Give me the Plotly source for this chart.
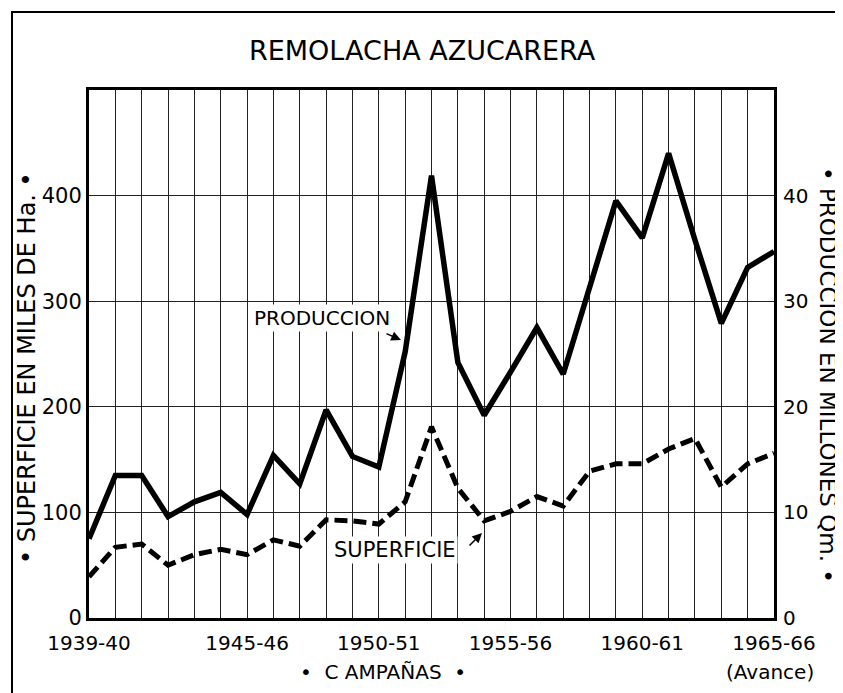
import plotly.graph_objects as go

# ---- data ----
years = list(range(1939, 1966))
produccion = [7.5, 13.5, 13.5, 9.6, 11.0, 11.9, 9.8, 15.4, 12.7, 19.7, 15.3, 14.3,
              25.2, 41.9, 24.2, 19.2, 23.3, 27.5, 23.1, 31.4, 39.5, 36.0, 44.0,
              35.8, 27.9, 33.2, 34.7]
superficie = [39, 67, 70, 50, 60, 65, 60, 74, 68, 93, 92, 89, 110, 181, 123, 92,
              101, 115, 106, 139, 146, 146, 160, 170, 124, 146, 156]
label_years = [1939, 1945, 1950, 1955, 1960, 1965]
label_text = ["1939-40", "1945-46", "1950-51", "1955-56", "1960-61", "1965-66"]
left_ticks = [0, 100, 200, 300, 400]
right_ticks = [0, 10, 20, 30, 40]

W, H = 843, 693
OFF = 8  # page body margin offset
L, R, T, B = 89, 774, 90, 618  # plot area in picture pixels
FONT = "DejaVu Sans, Verdana, sans-serif"


def px(x):
    return (x - L) / (R - L)


def py(y):
    return (B - y) / (B - T)


fig = go.Figure()
fig.add_trace(go.Scatter(x=years, y=superficie, mode="lines", yaxis="y",
                         line=dict(color="black", width=5, dash="13px,6px"),
                         showlegend=False))
fig.add_trace(go.Scatter(x=years, y=produccion, mode="lines", yaxis="y2",
                         line=dict(color="black", width=5.5),
                         showlegend=False))

tickvals = years
ticktext = [label_text[label_years.index(y)] if y in label_years else "" for y in years]

fig.update_layout(
    width=W, height=H,
    margin=dict(l=L - OFF, r=W - (R - OFF), t=T - OFF, b=H - (B - OFF), pad=0),
    paper_bgcolor="white", plot_bgcolor="white",
    font=dict(family=FONT, color="black", size=18),
    xaxis=dict(range=[1939, 1965], tickvals=tickvals, ticktext=ticktext,
               showgrid=True, gridcolor="#222", gridwidth=1.4,
               showline=True, linecolor="black", linewidth=3, mirror=True,
               ticks="", zeroline=False, tickfont=dict(size=20), ticklabelstandoff=5),
    yaxis=dict(range=[0, 500], tickvals=left_ticks, showgrid=True,
               gridcolor="#222", gridwidth=1.4, zeroline=False,
               showline=True, linecolor="black", linewidth=3, mirror=True,
               ticks="", tickfont=dict(size=21), ticklabelstandoff=0),
    yaxis2=dict(range=[0, 50], tickvals=right_ticks, overlaying="y", side="right",
                showgrid=False, zeroline=False, ticks="", showline=False,
                tickfont=dict(size=20), ticklabelstandoff=8),
)

ann = [
    dict(text="REMOLACHA AZUCARERA", x=px(422), y=py(50), font=dict(size=27)),
    dict(text="• SUPERFICIE EN MILES DE Ha. •", x=px(27), y=py(368), textangle=-90,
         font=dict(size=24)),
    dict(text="• PRODUCCION EN MILLONES Qm. •", x=px(828), y=py(375), textangle=90,
         font=dict(size=23)),
    dict(text="•  C AMPAÑAS  •", x=px(383), y=py(672), font=dict(size=20)),
    dict(text="(Avance)", x=px(770), y=py(672), font=dict(size=20)),
]
for a in ann:
    fig.add_annotation(xref="paper", yref="paper", showarrow=False,
                       xanchor="center", yanchor="middle", **a)

# labels with arrows
fig.add_annotation(xref="paper", yref="paper", text="PRODUCCION",
                   x=px(322), y=py(318), showarrow=False, bgcolor="white",
                   font=dict(size=20), xanchor="center", yanchor="middle")
fig.add_annotation(xref="paper", yref="paper", axref="pixel", ayref="pixel",
                   x=px(401), y=py(340), ax=-16, ay=-7, text="", showarrow=True,
                   arrowhead=2, arrowsize=1.3, arrowwidth=1.5, arrowcolor="black")
fig.add_annotation(xref="paper", yref="paper", text="SUPERFICIE",
                   x=px(395), y=py(550), showarrow=False, bgcolor="white",
                   font=dict(size=21), xanchor="center", yanchor="middle")
fig.add_annotation(xref="paper", yref="paper", axref="pixel", ayref="pixel",
                   x=px(482), y=py(533), ax=-14, ay=14, text="", showarrow=True,
                   arrowhead=2, arrowsize=1.3, arrowwidth=1.5, arrowcolor="black")

# outer frame
fig.add_shape(type="line", xref="paper", yref="paper", x0=px(12), x1=px(12),
              y0=py(12), y1=py(700), line=dict(color="black", width=2))
fig.add_shape(type="line", xref="paper", yref="paper", x0=px(11), x1=px(860),
              y0=py(12), y1=py(12), line=dict(color="black", width=2))

fig.write_html("out.html")
